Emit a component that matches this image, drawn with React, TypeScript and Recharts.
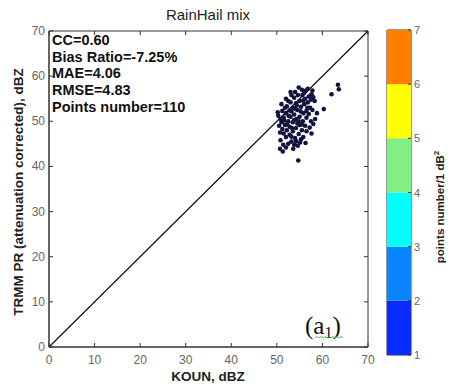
import React from 'react';
import { ScatterChart, Scatter, XAxis, YAxis, ReferenceLine, ReferenceArea, BarChart, Bar } from 'recharts';

// KOUN vs TRMM PR reflectivity pairs (dBZ)
const kounDbz = [
  63.4, 63.6, 62.0, 60.3, 58.0, 57.6, 58.4, 58.0, 57.6, 54.7,
  53.6, 50.7, 51.3, 55.1, 54.6, 50.7, 50.3, 51.8, 52.5, 53.2,
  54.0, 55.5, 56.4, 57.0, 56.2, 55.0, 54.2, 53.5, 52.8, 52.0,
  51.5, 51.0, 51.8, 52.5, 53.0, 53.8, 54.5, 55.3, 56.0, 56.8,
  57.3, 56.5, 55.8, 55.0, 54.3, 53.5, 52.8, 52.2, 51.5, 52.0,
  52.8, 53.5, 54.2, 55.0, 55.7, 56.5, 57.0, 56.2, 55.5, 54.8,
  54.0, 53.2, 52.5, 53.8, 55.8, 56.5, 57.2, 54.4, 53.0, 52.2,
  51.2, 50.8, 50.5, 51.2, 55.6, 56.8, 57.8, 58.3, 57.8, 55.2,
  54.0, 53.2, 52.6, 53.8, 54.8, 55.5, 53.3, 52.3, 51.6, 50.2,
  51.0, 52.0, 53.8, 54.6, 55.8, 56.7, 57.5, 54.5, 53.2, 52.0,
  55.3, 56.3, 54.2, 50.8, 51.4, 56.0, 57.5, 58.8, 53.0, 54.8,
];
const trmmDbz = [
  58.1, 57.1, 56.0, 52.7, 55.3, 56.0, 50.5, 49.4, 47.3, 41.3,
  43.9, 43.9, 43.3, 45.3, 44.6, 47.5, 51.2, 53.0, 54.5, 55.8,
  56.5, 57.0, 56.8, 55.5, 55.0, 54.5, 54.0, 53.0, 52.4, 51.8,
  50.8, 49.8, 49.2, 50.0, 51.0, 51.5, 52.5, 53.2, 53.8, 54.2,
  53.0, 52.3, 51.8, 51.0, 50.5, 49.8, 48.8, 48.0, 47.3, 46.5,
  47.0, 47.8, 48.5, 49.2, 50.0, 50.8, 51.6, 49.0, 48.0, 47.2,
  46.3, 45.5, 45.0, 44.8, 46.5, 47.8, 48.6, 53.5, 54.2, 53.3,
  52.3, 50.5, 49.0, 48.3, 55.8, 57.2, 56.8, 54.5, 52.5, 52.2,
  52.8, 52.2, 51.2, 50.3, 50.0, 49.3, 48.5, 49.3, 50.2, 52.0,
  53.8, 55.0, 55.2, 55.8, 54.6, 53.0, 54.8, 49.5, 46.6, 44.2,
  46.0, 45.2, 45.6, 45.8, 44.8, 56.3, 50.0, 51.8, 56.5, 57.5,
];
const axisTicks = [0, 10, 20, 30, 40, 50, 60, 70];
const statsLines = ['CC=0.60', 'Bias Ratio=-7.25%', 'MAE=4.06', 'RMSE=4.83', 'Points number=110'];

// colorbar: points number per 1 dB^2
const densityKeys = ['b1', 'b2', 'b3', 'b4', 'b5', 'b6'];
const densityColors = ['#0a2cff', '#0a84ff', '#00ffff', '#80f080', '#ffff00', '#ff8000'];
const densityTicks = [1, 2, 3, 4, 5, 6, 7];

const FONT = 'Liberation Sans, Arial, sans-serif';
const AX_MAX = 70;
const TICK_LEN = 0.9; // inward tick length in data units (~4px)

const points = kounDbz.map((k, i) => ({ koun: k, trmm: trmmDbz[i] }));
const bandRow = densityKeys.reduce((acc, key) => ({ ...acc, [key]: 1 }), { name: 'cb', base: 1 } as any);

const BottomTick = ({ x, y, payload }: any) => (
  <g>
    <line x1={x} x2={x} y1={y} y2={y - 4} stroke="#333" />
    <text x={x} y={y + 17} textAnchor="middle" fontSize={12} fill="#666" fontFamily={FONT}>
      {payload.value}
    </text>
  </g>
);

const LeftTick = ({ x, y, payload }: any) => (
  <g>
    <line x1={x} x2={x + 4} y1={y} y2={y} stroke="#333" />
    <text x={x - 4} y={y + 4} textAnchor="end" fontSize={12} fill="#666" fontFamily={FONT}>
      {payload.value}
    </text>
  </g>
);

const ColorbarTick = ({ x, y, payload }: any) => (
  <g>
    <line x1={x} x2={x - 3} y1={y} y2={y} stroke="#333" />
    <text x={x + 3} y={y + 4} fontSize={11} fill="#666" fontFamily={FONT}>
      {payload.value}
    </text>
  </g>
);

const Dot = (props: any) => <circle cx={props.cx} cy={props.cy} r={2.3} fill="#12123e" />;

const App: React.FC = () => {
  return (
    <div style={{ position: 'absolute', left: 0, top: 0, width: 452, height: 387, background: '#fff' }}>
      <div style={{ position: 'absolute', left: 0, top: 0 }}>
        <ScatterChart width={452} height={387} margin={{ top: 31, right: 84, bottom: 0, left: 0 }}>
          <XAxis
            type="number"
            dataKey="koun"
            domain={[0, AX_MAX]}
            ticks={axisTicks}
            height={40}
            tickSize={0}
            tickMargin={0}
            tick={<BottomTick />}
            axisLine={{ stroke: '#333' }}
          />
          <YAxis
            type="number"
            dataKey="trmm"
            domain={[0, AX_MAX]}
            ticks={axisTicks}
            width={49}
            tickSize={0}
            tickMargin={0}
            tick={<LeftTick />}
            axisLine={{ stroke: '#333' }}
          />
          {/* box and inward ticks on top / right, matlab style */}
          <ReferenceArea x1={0} x2={AX_MAX} y1={0} y2={AX_MAX} fill="none" stroke="#333" />
          {axisTicks.map((t) => (
            <ReferenceLine
              key={'top' + t}
              segment={[{ x: t, y: AX_MAX }, { x: t, y: AX_MAX - TICK_LEN }]}
              stroke="#333"
            />
          ))}
          {axisTicks.map((t) => (
            <ReferenceLine
              key={'right' + t}
              segment={[{ x: AX_MAX, y: t }, { x: AX_MAX - TICK_LEN, y: t }]}
              stroke="#333"
            />
          ))}
          <ReferenceLine
            segment={[{ x: 0, y: 0 }, { x: AX_MAX, y: AX_MAX }]}
            stroke="#111"
            strokeWidth={1.2}
          />
          <Scatter data={points} shape={<Dot />} isAnimationActive={false} />
        </ScatterChart>
      </div>

      <div style={{ position: 'absolute', left: 380, top: 0 }}>
        <BarChart
          width={60}
          height={387}
          data={[bandRow]}
          margin={{ top: 30, right: 0, bottom: 32, left: 7 }}
          barCategoryGap={0}
        >
          <XAxis dataKey="name" hide />
          <YAxis
            orientation="right"
            type="number"
            domain={[1, 7]}
            ticks={densityTicks}
            width={29}
            tickSize={0}
            tickMargin={0}
            tick={<ColorbarTick />}
            axisLine={false}
            allowDataOverflow
          />
          <Bar dataKey="base" stackId="cb" fill="none" isAnimationActive={false} />
          {densityKeys.map((key, i) => (
            <Bar key={key} dataKey={key} stackId="cb" fill={densityColors[i]} isAnimationActive={false} />
          ))}
          <ReferenceArea y1={1} y2={7} fill="none" stroke="#333" />
        </BarChart>
      </div>

      <svg
        width={452}
        height={387}
        style={{ position: 'absolute', left: 0, top: 0, pointerEvents: 'none' }}
        fontFamily={FONT}
      >
        <text x={208} y={20} textAnchor="middle" fontSize={15} fill="#222">
          RainHail mix
        </text>
        {statsLines.map((line, i) => (
          <text key={line} x={52} y={45 + i * 16.7} fontSize={14.5} fontWeight="bold" fill="#111">
            {line}
          </text>
        ))}
        <text x={208} y={381} textAnchor="middle" fontSize={13.5} fontWeight="bold" fill="#222">
          KOUN, dBZ
        </text>
        <text
          x={23}
          y={192}
          textAnchor="middle"
          fontSize={13.5}
          fontWeight="bold"
          fill="#222"
          transform="rotate(-90, 23, 192)"
        >
          TRMM PR (attenuation corrected), dBZ
        </text>
        <text x={305} y={334} fontSize={25} fill="#111" fontFamily="Liberation Serif, Times New Roman, serif">
          (a<tspan fontSize={16} dy={4}>1</tspan>
          <tspan fontSize={25} dy={-4}>)</tspan>
        </text>
        <path
          d="M315 338 l2 -1.5 l2 1.5 l2 -1.5 l2 1.5 l2 -1.5 l2 1.5 l2 -1.5 l2 1.5 l2 -1.5 l2 1.5 l2 -1.5 l2 1.5 l2 -1.5 l2 1.5"
          fill="none"
          stroke="#3aa83a"
          strokeWidth={0.8}
        />
        <text
          x={444}
          y={207}
          textAnchor="middle"
          fontSize={11.5}
          fontWeight="bold"
          fill="#222"
          transform="rotate(-90, 444, 207)"
        >
          points number/1 dB<tspan fontSize={8} dy={-5}>2</tspan>
        </text>
      </svg>
    </div>
  );
};

export default App;
